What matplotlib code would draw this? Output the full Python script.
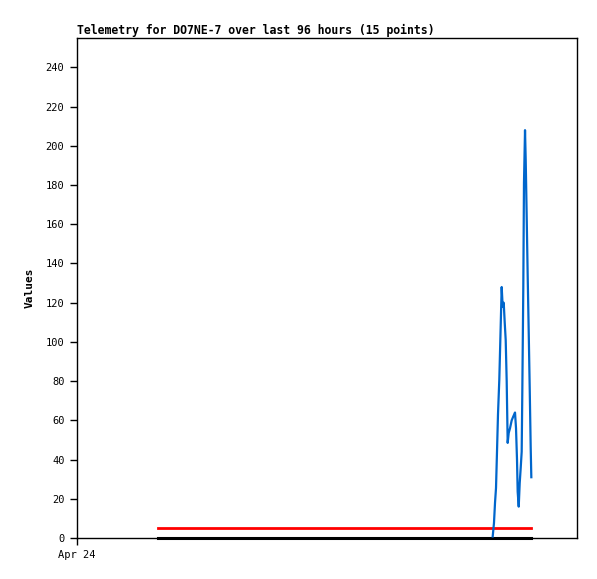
import matplotlib.pyplot as plt

# hours since start of window (Apr 24 at 0)
hours = [79.81, 80.06, 80.26, 80.45, 80.64, 80.83, 81.08, 81.27, 81.54, 81.73,
         81.93, 82.12, 82.31, 82.50, 82.69, 82.89, 83.14, 83.46, 83.77, 84.10,
         84.29, 84.48, 84.61, 84.81, 85.00, 85.19, 85.38, 85.50, 85.69, 85.82,
         86.02, 86.15, 86.34, 86.53, 86.73, 86.92, 87.11, 87.23]
values = [0.7, 7.6, 18, 25.5, 44, 63, 80.6, 100, 128, 118,
          120, 110, 101, 80, 48.5, 53.6, 56, 60, 62, 64,
          56, 40, 23.6, 16, 28, 35.7, 44, 74.6, 128, 181,
          208, 193, 164, 134, 105, 76.5, 46, 31]

ref_x = [15.55, 87.17]
limit_val = [5, 5]
zero_val = [0, 0]

yticks = list(range(0, 241, 20))

fig = plt.figure(figsize=(5.97, 5.79), dpi=100)
ax = fig.add_axes([77 / 597, 41 / 579, 500 / 597, 500 / 579])

ax.plot(ref_x, zero_val, color='black', lw=2.2, clip_on=False)
ax.plot(ref_x, limit_val, color='#ff0000', lw=2)
ax.plot(hours, values, color='#0066cc', lw=1.6)

ax.set_xlim(0, 96)
ax.set_ylim(0, 255)
ax.set_yticks(yticks)
ax.set_yticklabels([str(v) for v in yticks], family='DejaVu Sans Mono', fontsize=7.5)
ax.set_xticks([0])
ax.set_xticklabels(['Apr 24'], family='DejaVu Sans Mono', fontsize=7.5)
ax.tick_params(direction='out', length=5, width=1, pad=4)

for s in ax.spines.values():
    s.set_linewidth(1)
    s.set_color('black')

ax.set_ylabel('Values', family='DejaVu Sans Mono', fontweight='bold', fontsize=8, labelpad=8)
ax.set_title('Telemetry for DO7NE-7 over last 96 hours (15 points)',
             family='DejaVu Sans Mono', fontweight='bold', fontsize=8.3, loc='left', pad=3)

fig.savefig('out.png', dpi=100)
